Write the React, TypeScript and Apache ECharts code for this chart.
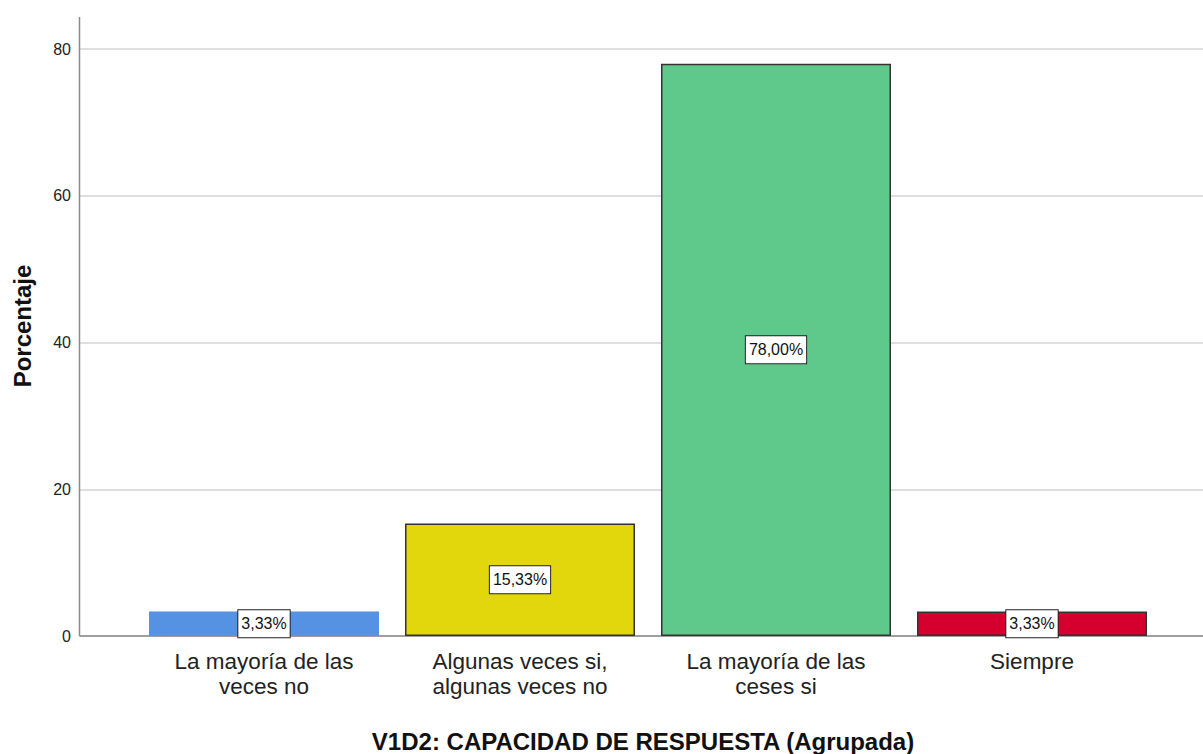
import React, { useEffect, useRef } from "react";
import * as echarts from "echarts";

const categories = [
  "La mayoría de las\nveces no",
  "Algunas veces si,\nalgunas veces no",
  "La mayoría de las\nceses si",
  "Siempre",
];
const percentages = [3.33, 15.33, 78.0, 3.33];
const barColors = ["#5592E3", "#E2D70D", "#5EC98A", "#D5002E"];
const barBorders = ["#5592E3", "#333333", "#333333", "#333333"];
const yTicks = [0, 20, 40, 60, 80];
const xTitle = "V1D2: CAPACIDAD DE RESPUESTA (Agrupada)";
const yTitle = "Porcentaje";

const FONT = "'Liberation Sans', Arial, sans-serif";

export default function App() {
  const ref = useRef<HTMLDivElement>(null);
  useEffect(() => {
    if (!ref.current) return;
    const chart = echarts.init(ref.current, undefined, { renderer: "svg" });
    const yMin = yTicks[0];
    const yMax = yTicks[yTicks.length - 1];
    chart.setOption({
      animation: false,
      backgroundColor: "#ffffff",
      grid: [
        { left: 80, right: 0, top: 49, bottom: 118 },
        { left: 136, right: 43, top: 49, bottom: 118 },
      ],
      xAxis: [
        {
          gridIndex: 0,
          type: "category",
          data: [""],
          axisLine: { show: true, lineStyle: { color: "#8a8a8a", width: 1.5 } },
          axisTick: { show: false },
          axisLabel: { show: false },
        },
        {
          gridIndex: 1,
          type: "category",
          data: categories,
          axisLine: { show: false },
          axisTick: { show: false },
          axisLabel: {
            interval: 0,
            margin: 13,
            fontFamily: FONT,
            fontSize: 22.5,
            lineHeight: 25,
            color: "#222222",
          },
        },
      ],
      yAxis: [
        {
          gridIndex: 0,
          type: "value",
          min: yMin,
          max: yMax,
          interval: 20,
          axisLine: { show: false },
          axisTick: { show: false },
          axisLabel: { fontFamily: FONT, fontSize: 16, color: "#222222", margin: 9 },
          splitLine: { show: true, lineStyle: { color: "#d4d4d4", width: 1.5 } },
        },
        {
          gridIndex: 1,
          type: "value",
          min: yMin,
          max: yMax,
          interval: 20,
          show: false,
          splitLine: { show: false },
        },
      ],
      graphic: [
        {
          type: "line",
          shape: { x1: 79.5, y1: 17, x2: 79.5, y2: 636 },
          style: { stroke: "#8a8a8a", lineWidth: 1.5 },
          z: 10,
        },
        {
          type: "text",
          x: 22,
          y: 326,
          rotation: Math.PI / 2,
          style: {
            text: yTitle,
            fontFamily: FONT,
            fontSize: 24,
            fontWeight: "bold",
            fill: "#111111",
            textAlign: "center",
            textVerticalAlign: "middle",
          },
        },
        {
          type: "text",
          x: 643,
          y: 741,
          style: {
            text: xTitle,
            fontFamily: FONT,
            fontSize: 24,
            fontWeight: "bold",
            fill: "#111111",
            textAlign: "center",
            textVerticalAlign: "middle",
          },
        },
      ],
      series: [
        {
          type: "bar",
          xAxisIndex: 1,
          yAxisIndex: 1,
          barWidth: 230,
          data: percentages.map((v, i) => ({
            value: v,
            itemStyle: { color: barColors[i], borderColor: barBorders[i], borderWidth: 1.5 },
          })),
          label: {
            show: true,
            position: "inside",
            formatter: (p: any) => p.value.toFixed(2).replace(".", ",") + "%",
            fontFamily: FONT,
            fontSize: 16,
            color: "#111111",
            backgroundColor: "#ffffff",
            borderColor: "#222222",
            borderWidth: 1,
            padding: [6, 3, 5, 3],
          },
        },
      ],
    });
    return () => chart.dispose();
  }, []);
  return (
    <div
      ref={ref}
      style={{ position: "fixed", left: 0, top: 0, width: 1203, height: 754 }}
    />
  );
}
